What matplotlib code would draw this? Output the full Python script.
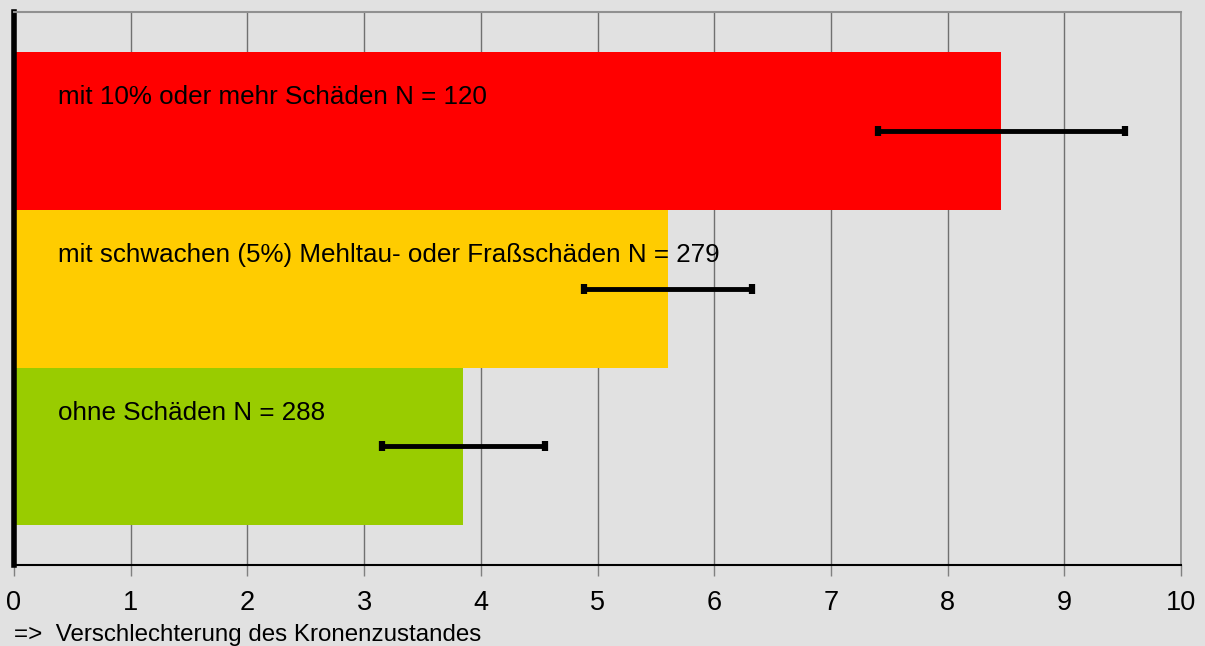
import matplotlib
matplotlib.use('Agg')
import matplotlib.pyplot as plt

# data (bottom to top)
labels = ['ohne Schäden N = 288',
          'mit schwachen (5%) Mehltau- oder Fraßschäden N = 279',
          'mit 10% oder mehr Schäden N = 120']
values = [3.85, 5.60, 8.46]
errors = [0.70, 0.72, 1.06]
colors = ['#99CC00', '#FFCC00', '#FF0000']
xticks = list(range(0, 11))

plt.rcParams['font.family'] = ['Liberation Sans', 'DejaVu Sans']

fig = plt.figure(figsize=(12.05, 6.46), dpi=100)
fig.patch.set_facecolor('#e1e1e1')
ax = fig.add_axes([0.0116, 0.1254, 0.9686, 0.856])
ax.set_facecolor('#e1e1e1')

ypos = list(range(len(values)))
ax.barh(ypos, values, height=1.0, color=colors, zorder=2)
ax.errorbar(values, ypos, xerr=errors, fmt='none', ecolor='black',
            elinewidth=3.5, capsize=3.5, capthick=4.5, zorder=3)

for y, lab in zip(ypos, labels):
    ax.text(0.38, y + 0.21, lab, fontsize=18.7, va='center', ha='left', zorder=4)

ax.set_xlim(0, 10)
ax.set_ylim(-0.75, 2.75)
ax.set_xticks(xticks)
ax.set_yticks([])
ax.xaxis.grid(True, color='#707070', linewidth=1.0, zorder=1)
ax.set_axisbelow(True)
ax.tick_params(axis='x', length=8, width=1, color='#808080', labelsize=19.5, pad=10)

ax.spines['left'].set_linewidth(4)
ax.spines['left'].set_color('black')
ax.spines['bottom'].set_linewidth(1.5)
ax.spines['bottom'].set_color('black')
ax.spines['top'].set_color('#909090')
ax.spines['top'].set_linewidth(1.5)
ax.spines['right'].set_color('#909090')
ax.spines['right'].set_linewidth(1.2)

fig.text(0.012, 0.017, '=>  Verschlechterung des Kronenzustandes', fontsize=17.4, ha='left', va='center')

plt.savefig('out.png', dpi=100, facecolor=fig.get_facecolor())
